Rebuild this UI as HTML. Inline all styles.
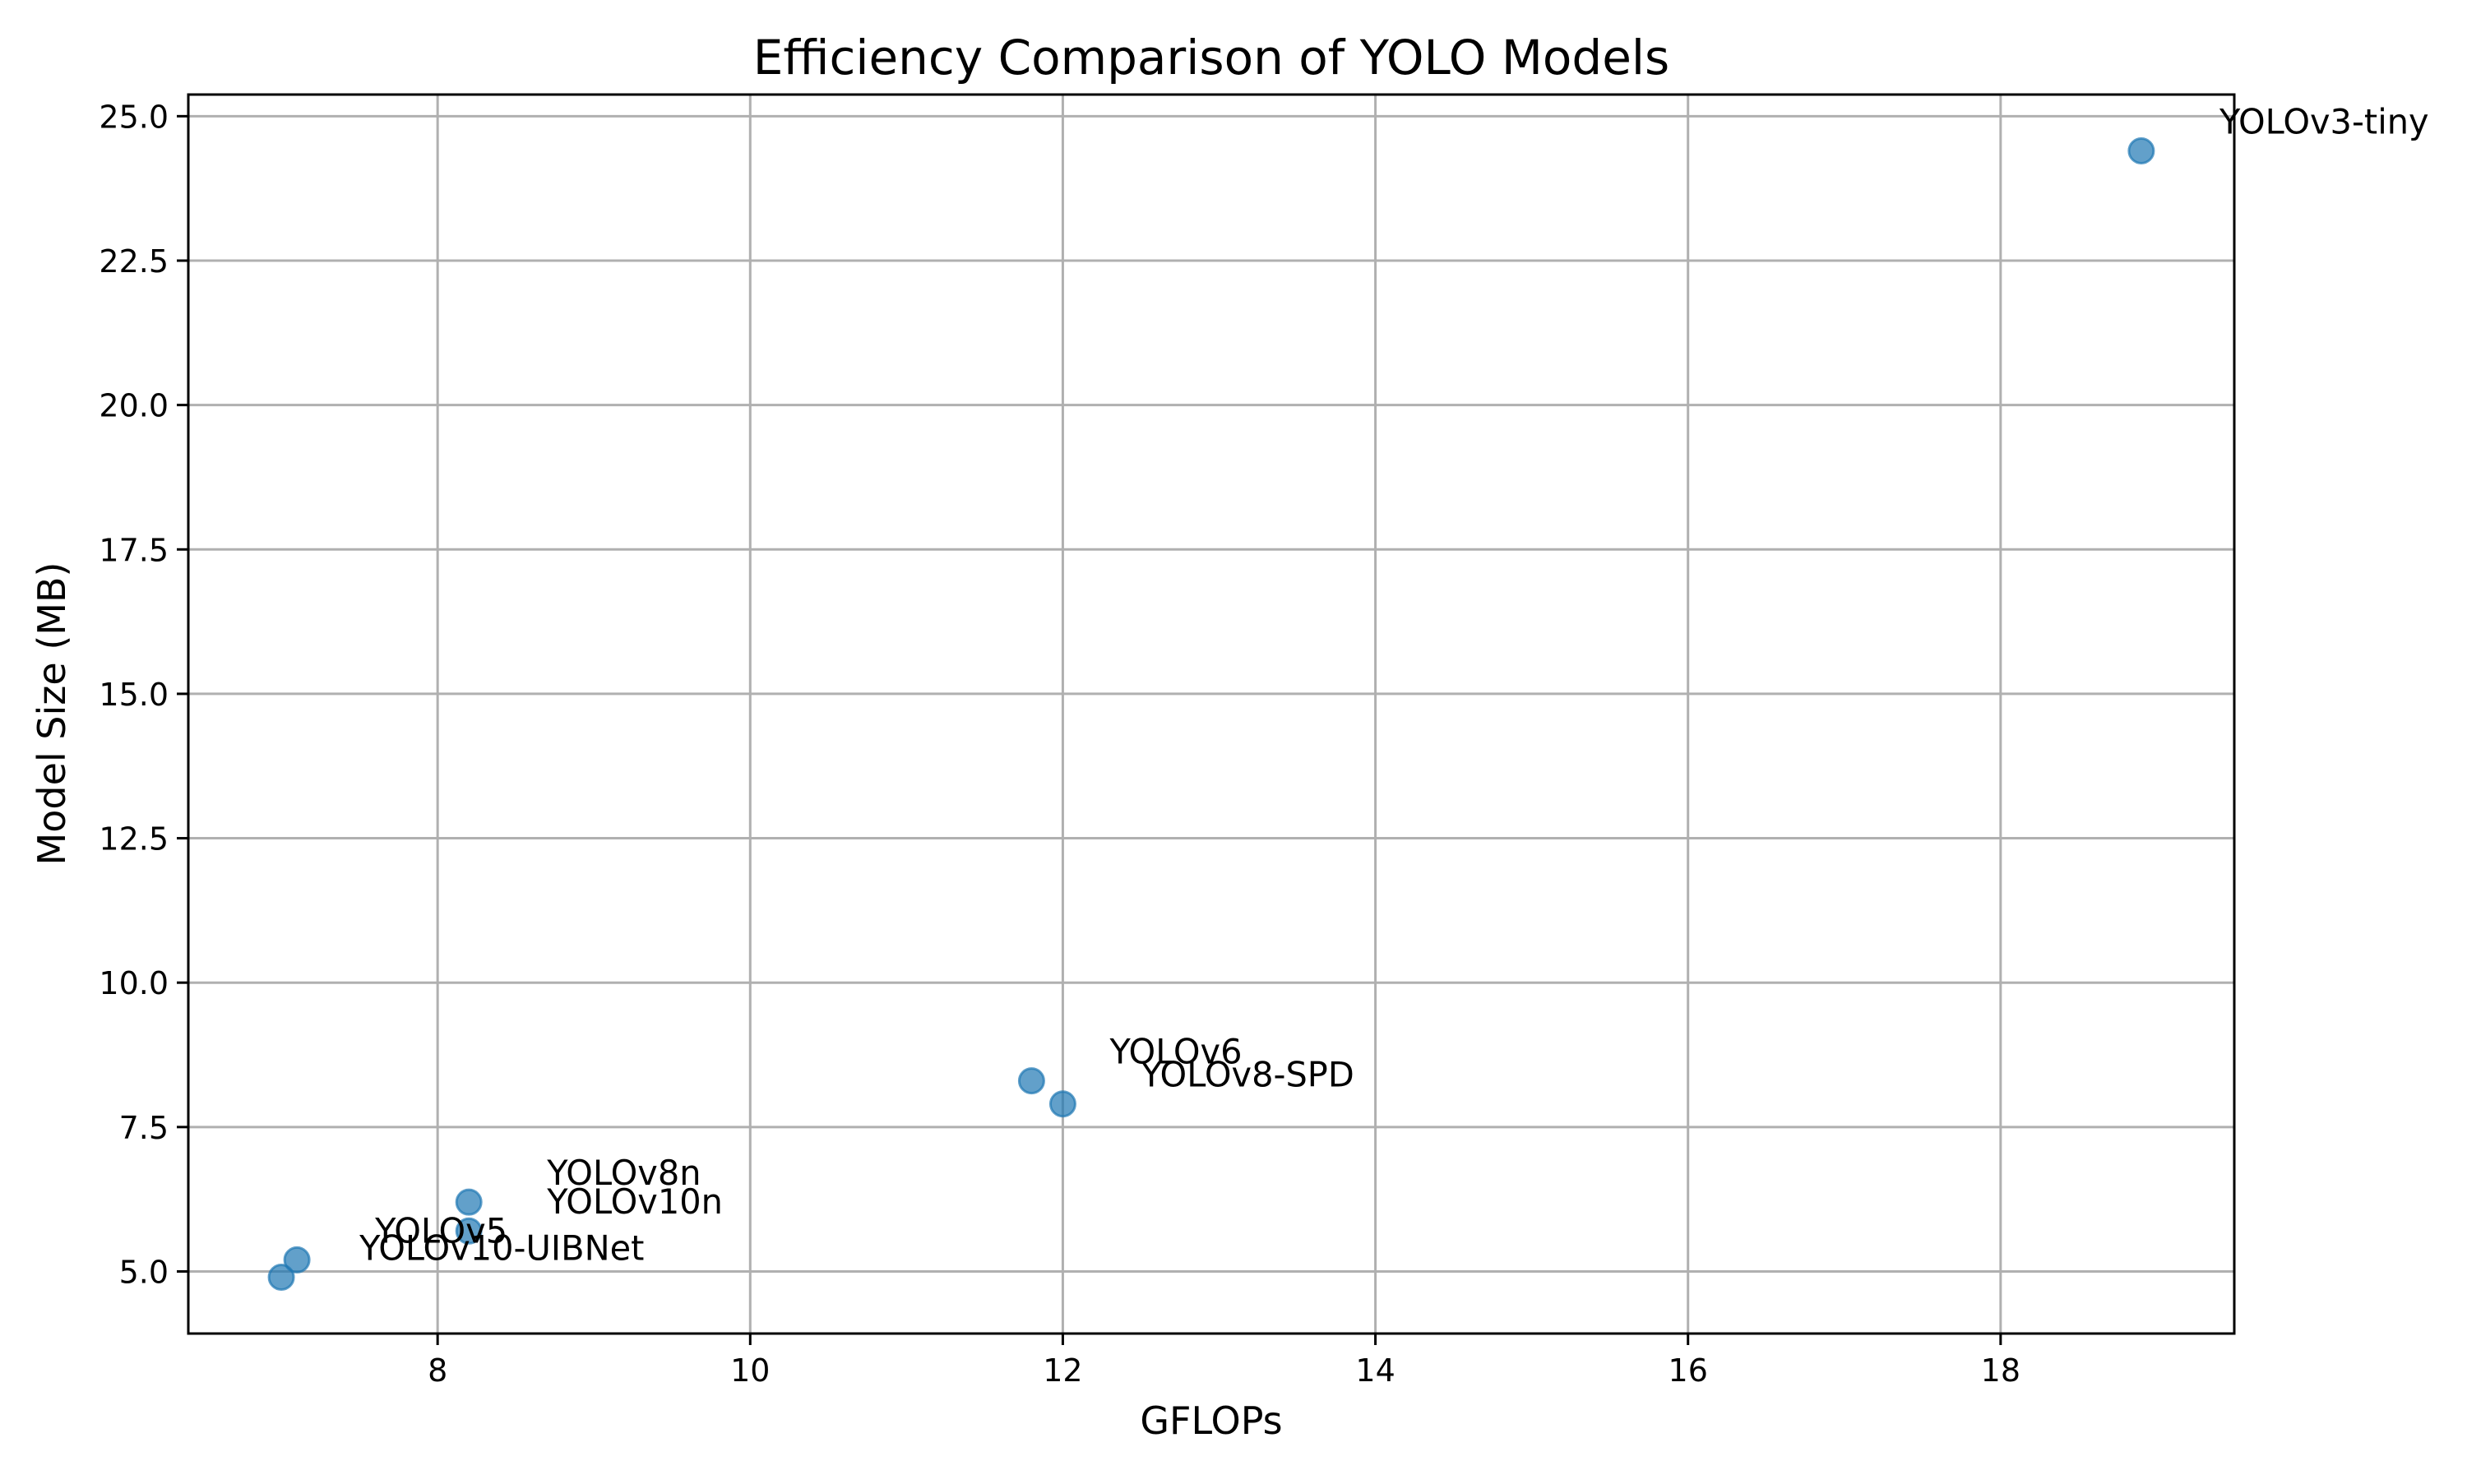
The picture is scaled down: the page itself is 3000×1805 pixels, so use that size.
<!DOCTYPE html>
<html><head><meta charset="utf-8"><style>
body{margin:0;background:#fff}
svg text{font-family:"DejaVu Sans","Liberation Sans",sans-serif;fill:#000}
</style></head><body>
<svg id="chart" width="3000" height="1800" xmlns="http://www.w3.org/2000/svg">
<rect width="3000" height="1800" fill="#fff"/>
<g id="grid"></g>
<g id="ticks"></g>
<g id="points"></g>
<g id="labels"></g>
<rect x="229" y="115" width="2488" height="1507" fill="none" stroke="#000" stroke-width="3"/>
<text x="1473" y="90" font-size="58" text-anchor="middle">Efficiency Comparison of YOLO Models</text>
<text x="1473" y="1744" font-size="46" text-anchor="middle">GFLOPs</text>
<text transform="translate(79,868) rotate(-90)" font-size="46" text-anchor="middle">Model Size (MB)</text>
</svg>
<script>
const models = ["YOLOv10-UIBNet","YOLOv5","YOLOv8n","YOLOv10n","YOLOv6","YOLOv8-SPD","YOLOv3-tiny"];
const gflops = [7.0,7.1,8.2,8.2,11.8,12.0,18.9];
const sizes = [4.9,5.2,6.2,5.7,8.3,7.9,24.4];
const labelPos = [[7.5,5.2],[7.6,5.5],[8.7,6.5],[8.7,6.0],[12.3,8.6],[12.5,8.2],[19.4,24.7]];
const xTicks = [8,10,12,14,16,18];
const yTicks = [5.0,7.5,10.0,12.5,15.0,17.5,20.0,22.5,25.0];
const L=229,R=2717,T=115,B=1622;
const xmin=6.405,xmax=19.495,ymin=3.925,ymax=25.375;
function sx(v){return L+(v-xmin)/(xmax-xmin)*(R-L);}
function sy(v){return B-(v-ymin)/(ymax-ymin)*(B-T);}
const NS="http://www.w3.org/2000/svg";
function mk(tag,attrs,parent){const e=document.createElementNS(NS,tag);for(const k in attrs)e.setAttribute(k,attrs[k]);document.getElementById(parent).appendChild(e);return e;}
xTicks.forEach(t=>{
  const g=mk('line',{x1:sx(t),x2:sx(t),y1:T,y2:B,stroke:'#b0b0b0','stroke-width':3},'grid');
  
  
  const tk=mk('line',{x1:sx(t),x2:sx(t),y1:B,y2:B+14,stroke:'#000','stroke-width':3},'ticks');
  
  
  const tx=mk('text',{x:sx(t),y:B+58,'font-size':38,'text-anchor':'middle'},'ticks');
  tx.textContent=String(t);
  
  
});
yTicks.forEach(t=>{
  const g=mk('line',{x1:L,x2:R,y1:sy(t),y2:sy(t),stroke:'#b0b0b0','stroke-width':3},'grid');
  
  
  const tk=mk('line',{x1:L-14,x2:L,y1:sy(t),y2:sy(t),stroke:'#000','stroke-width':3},'ticks');
  
  
  const tx=mk('text',{x:L-24,y:sy(t)+14,'font-size':38,'text-anchor':'end'},'ticks');
  tx.textContent=t.toFixed(1);
  
  
});
models.forEach((m,i)=>{
  const c=mk('circle',{cx:sx(gflops[i]),cy:sy(sizes[i]),r:15,fill:'#1f77b4','fill-opacity':0.7,stroke:'#1f77b4','stroke-opacity':0.7,'stroke-width':3},'points');
  
  
  const t=mk('text',{x:sx(labelPos[i][0]),y:sy(labelPos[i][1]),'font-size':41.5},'labels');
  t.textContent=m;
  
  
});
</script>
</body></html>
